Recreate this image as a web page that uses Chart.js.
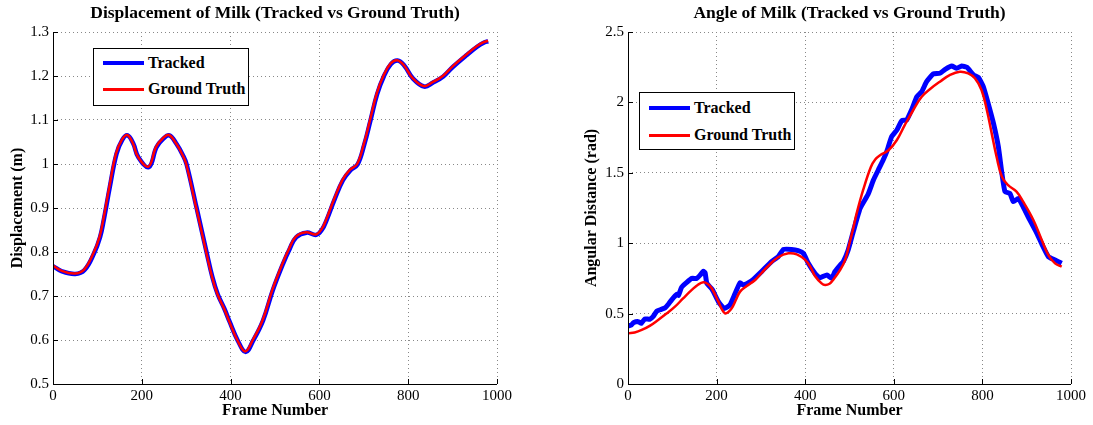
<!DOCTYPE html>
<html>
<head>
<meta charset="utf-8">
<script src="https://cdn.jsdelivr.net/npm/chart.js@4.4.0/dist/chart.umd.min.js"></script>
<style>
  body { margin: 0; background: #fff; }
  #wrap { position: relative; width: 1093px; height: 425px; overflow: hidden; font-family: "Liberation Serif", "Times New Roman", serif; }
  canvas { position: absolute; top: 0; }
  .legend { position: absolute; background: #fff; border: 1px solid #000; box-sizing: border-box; }
  .legend .swatch { position: absolute; }
  .legend .label { position: absolute; height: 20px; line-height: 20px; font-weight: bold; font-size: 16px; white-space: nowrap; color: #000; }
</style>
</head>
<body>
<div id="wrap">
  <canvas id="disp" width="520" height="425" style="left:0"></canvas>
  <canvas id="angle" width="528" height="425" style="left:565px"></canvas>
</div>
<script>
// x axis ticks shared by both plots
const frameTicks = [0, 200, 400, 600, 800, 1000];

// Displacement of milk (m)
const dispFramesGT = [0, 20, 49, 70, 91, 105, 113, 127, 142, 155, 167, 180, 191, 215, 232, 247, 261, 277, 292, 300, 322, 345, 358, 370, 385, 397, 415, 433, 450, 472, 494, 517, 532, 547, 570, 592, 605, 615, 633, 652, 669, 685, 700, 714, 729, 744, 760, 775, 790, 810, 835, 855, 878, 900, 930, 955, 970, 980];
const dispGT = [0.769, 0.757, 0.751, 0.760, 0.797, 0.835, 0.872, 0.949, 1.024, 1.055, 1.066, 1.047, 1.017, 0.994, 1.039, 1.058, 1.066, 1.047, 1.020, 1.000, 0.903, 0.800, 0.744, 0.705, 0.672, 0.642, 0.600, 0.574, 0.600, 0.645, 0.714, 0.774, 0.808, 0.835, 0.845, 0.840, 0.852, 0.873, 0.920, 0.964, 0.987, 1.000, 1.045, 1.100, 1.160, 1.200, 1.228, 1.236, 1.225, 1.195, 1.177, 1.186, 1.200, 1.222, 1.248, 1.268, 1.277, 1.280];
const dispFramesTracked = [0, 20, 50, 71, 92, 106, 114, 128, 143, 156, 168, 181, 192, 216, 233, 248, 262, 278, 293, 301, 323, 346, 359, 371, 386, 398, 416, 434, 451, 473, 495, 518, 533, 548, 571, 593, 606, 616, 634, 653, 670, 686, 701, 715, 730, 745, 761, 776, 791, 811, 836, 856, 879, 901, 931, 956, 971, 980];
const dispTracked = [0.768, 0.756, 0.750, 0.759, 0.796, 0.834, 0.871, 0.948, 1.023, 1.055, 1.065, 1.046, 1.016, 0.993, 1.038, 1.057, 1.065, 1.046, 1.019, 0.999, 0.902, 0.799, 0.743, 0.704, 0.671, 0.641, 0.599, 0.573, 0.599, 0.644, 0.713, 0.773, 0.807, 0.834, 0.844, 0.839, 0.851, 0.872, 0.919, 0.963, 0.986, 0.999, 1.044, 1.099, 1.159, 1.199, 1.227, 1.235, 1.224, 1.194, 1.176, 1.185, 1.199, 1.221, 1.247, 1.267, 1.276, 1.279];

// Angle of milk (rad)
const angleFramesGT = [1, 15, 31, 50, 68, 87, 106, 125, 144, 158, 170, 180, 189, 204, 212, 219, 226, 234, 244, 253, 268, 287, 302, 317, 339, 362, 381, 400, 412, 422, 437, 445, 455, 463, 479, 490, 500, 508, 516, 531, 548, 558, 569, 588, 607, 625, 644, 663, 682, 704, 727, 749, 768, 783, 798, 810, 821, 832, 844, 858, 877, 892, 915, 934, 949, 964, 979];
const angleGT = [0.360, 0.366, 0.384, 0.415, 0.455, 0.500, 0.549, 0.610, 0.668, 0.705, 0.722, 0.710, 0.680, 0.585, 0.530, 0.502, 0.510, 0.537, 0.600, 0.656, 0.696, 0.739, 0.790, 0.840, 0.900, 0.928, 0.921, 0.881, 0.830, 0.767, 0.715, 0.703, 0.712, 0.739, 0.810, 0.880, 1.000, 1.100, 1.210, 1.380, 1.540, 1.595, 1.625, 1.660, 1.733, 1.840, 1.946, 2.040, 2.095, 2.147, 2.195, 2.218, 2.206, 2.171, 2.088, 1.946, 1.780, 1.614, 1.472, 1.413, 1.366, 1.295, 1.165, 1.023, 0.916, 0.857, 0.833];
const angleFramesTracked = [0, 8, 12, 23, 30, 38, 49, 57, 65, 75, 84, 92, 99, 110, 114, 121, 132, 144, 155, 163, 170, 174, 178, 190, 204, 217, 230, 242, 253, 260, 272, 283, 302, 324, 339, 351, 369, 384, 396, 407, 422, 433, 449, 460, 467, 479, 486, 497, 509, 524, 542, 554, 565, 576, 584, 595, 607, 618, 629, 640, 652, 663, 674, 689, 704, 716, 731, 742, 753, 765, 780, 791, 802, 813, 825, 836, 844, 851, 862, 870, 881, 892, 907, 923, 937, 949, 964, 979];
const angleTracked = [0.412, 0.420, 0.435, 0.443, 0.431, 0.462, 0.460, 0.480, 0.518, 0.530, 0.542, 0.570, 0.600, 0.637, 0.630, 0.687, 0.720, 0.750, 0.750, 0.774, 0.800, 0.790, 0.715, 0.672, 0.585, 0.537, 0.561, 0.644, 0.720, 0.703, 0.720, 0.743, 0.800, 0.869, 0.904, 0.956, 0.956, 0.947, 0.928, 0.857, 0.786, 0.755, 0.774, 0.750, 0.798, 0.845, 0.869, 0.952, 1.088, 1.248, 1.348, 1.449, 1.520, 1.591, 1.650, 1.756, 1.804, 1.870, 1.875, 1.946, 2.040, 2.076, 2.147, 2.202, 2.207, 2.235, 2.258, 2.242, 2.258, 2.249, 2.195, 2.178, 2.112, 1.993, 1.851, 1.685, 1.496, 1.366, 1.354, 1.295, 1.318, 1.259, 1.165, 1.070, 0.975, 0.904, 0.881, 0.857];

const serif = '"Liberation Serif", "Times New Roman", serif';

function points(frames, values) {
    return frames.map((f, i) => ({ x: f, y: values[i] }));
}

// matlab style axes: solid left/bottom lines with inward ticks
const matlabAxes = {
    id: 'matlabAxes',
    afterDraw(chart) {
        const { ctx, chartArea: a, scales: { x, y } } = chart;
        ctx.save();
        ctx.strokeStyle = '#000';
        ctx.lineWidth = 1;
        ctx.beginPath();
        ctx.moveTo(a.left + 0.5, a.top);
        ctx.lineTo(a.left + 0.5, a.bottom + 0.5);
        ctx.lineTo(a.right, a.bottom + 0.5);
        x.ticks.forEach(t => {
            const px = Math.round(x.getPixelForValue(t.value)) + 0.5;
            ctx.moveTo(px, a.bottom);
            ctx.lineTo(px, a.bottom - 5);
        });
        y.ticks.forEach(t => {
            const py = Math.round(y.getPixelForValue(t.value)) + 0.5;
            ctx.moveTo(a.left, py);
            ctx.lineTo(a.left + 5, py);
        });
        ctx.stroke();
        ctx.restore();
    }
};

function makeChart(id, o) {
    return new Chart(document.getElementById(id), {
        type: 'line',
        data: {
            datasets: [{
                label: 'Tracked',
                data: o.tracked,
                borderColor: '#0000ff',
                borderWidth: o.trackedWidth,
                pointRadius: 0,
                tension: o.trackedTension,
                order: 1
            }, {
                label: 'Ground Truth',
                data: o.truth,
                borderColor: '#ff0000',
                borderWidth: 2.5,
                pointRadius: 0,
                tension: 0.4,
                order: 0
            }]
        },
        options: {
            responsive: false,
            animation: false,
            events: [],
            layout: { padding: { left: 0, right: o.rightPad, top: 0, bottom: 0 } },
            plugins: {
                legend: { display: false },
                tooltip: { enabled: false },
                title: {
                    display: true,
                    text: o.title,
                    color: '#000',
                    fullSize: false,
                    font: { family: serif, size: 17.5, weight: 'bold' },
                    padding: { top: 3, bottom: 8 }
                }
            },
            scales: {
                x: {
                    type: 'linear',
                    min: 0,
                    max: 1000,
                    afterBuildTicks: s => { s.ticks = frameTicks.map(v => ({ value: v })); },
                    afterFit: s => { s.height = 41; },
                    grid: { color: '#888', lineWidth: 1, drawTicks: false },
                    border: { display: false, dash: [1, 3] },
                    ticks: {
                        color: '#000',
                        padding: 3,
                        maxRotation: 0,
                        font: { family: serif, size: 15 },
                        callback: v => String(v)
                    },
                    title: {
                        display: true,
                        text: 'Frame Number',
                        color: '#000',
                        font: { family: serif, size: 16, weight: 'bold' },
                        padding: { top: 0, bottom: 5 }
                    }
                },
                y: {
                    type: 'linear',
                    min: o.yMin,
                    max: o.yMax,
                    afterBuildTicks: s => { s.ticks = o.yTicks.map(v => ({ value: v })); },
                    afterFit: s => { s.width = o.yWidth; },
                    grid: { color: '#888', lineWidth: 1, drawTicks: false },
                    border: { display: false, dash: [1, 3] },
                    ticks: {
                        color: '#000',
                        padding: 4,
                        font: { family: serif, size: 15 },
                        callback: v => String(+v.toFixed(2))
                    },
                    title: {
                        display: true,
                        text: o.yTitle,
                        color: '#000',
                        font: { family: serif, size: 16, weight: 'bold' },
                        padding: { top: o.yTitlePad, bottom: 0 }
                    }
                }
            }
        },
        plugins: [matlabAxes]
    });
}

function makeLegend(left, top, rows) {
    const box = document.createElement('div');
    box.className = 'legend';
    box.style.left = left + 'px';
    box.style.top = top + 'px';
    box.style.width = '156px';
    box.style.height = '58px';
    rows.forEach(r => {
        const sw = document.createElement('div');
        sw.className = 'swatch';
        sw.style.left = '9px';
        sw.style.width = '41px';
        sw.style.height = r.width + 'px';
        sw.style.top = (r.y - r.width / 2) + 'px';
        sw.style.background = r.color;
        const lb = document.createElement('div');
        lb.className = 'label';
        lb.style.left = '54px';
        lb.style.top = (r.y - 10) + 'px';
        lb.textContent = r.text;
        box.appendChild(sw);
        box.appendChild(lb);
    });
    document.getElementById('wrap').appendChild(box);
}

makeChart('disp', {
    title: 'Displacement of Milk (Tracked vs Ground Truth)',
    yTitle: 'Displacement (m)',
    tracked: points(dispFramesTracked, dispTracked),
    truth: points(dispFramesGT, dispGT),
    trackedWidth: 4.5,
    trackedTension: 0.4,
    yMin: 0.5, yMax: 1.3,
    yTicks: [0.5, 0.6, 0.7, 0.8, 0.9, 1.0, 1.1, 1.2, 1.3],
    yWidth: 53,
    yTitlePad: 8,
    rightPad: 23
});

makeChart('angle', {
    title: 'Angle of Milk (Tracked vs Ground Truth)',
    yTitle: 'Angular Distance (rad)',
    tracked: points(angleFramesTracked, angleTracked),
    truth: points(angleFramesGT, angleGT),
    trackedWidth: 5,
    trackedTension: 0.15,
    yMin: 0, yMax: 2.5,
    yTicks: [0, 0.5, 1, 1.5, 2, 2.5],
    yWidth: 63,
    yTitlePad: 17,
    rightPad: 22
});

makeLegend(93, 48, [
    { text: 'Tracked', color: '#0000ff', width: 4, y: 14 },
    { text: 'Ground Truth', color: '#ff0000', width: 3, y: 40 }
]);
makeLegend(639, 92, [
    { text: 'Tracked', color: '#0000ff', width: 4, y: 15 },
    { text: 'Ground Truth', color: '#ff0000', width: 3, y: 42 }
]);
</script>
</body>
</html>
